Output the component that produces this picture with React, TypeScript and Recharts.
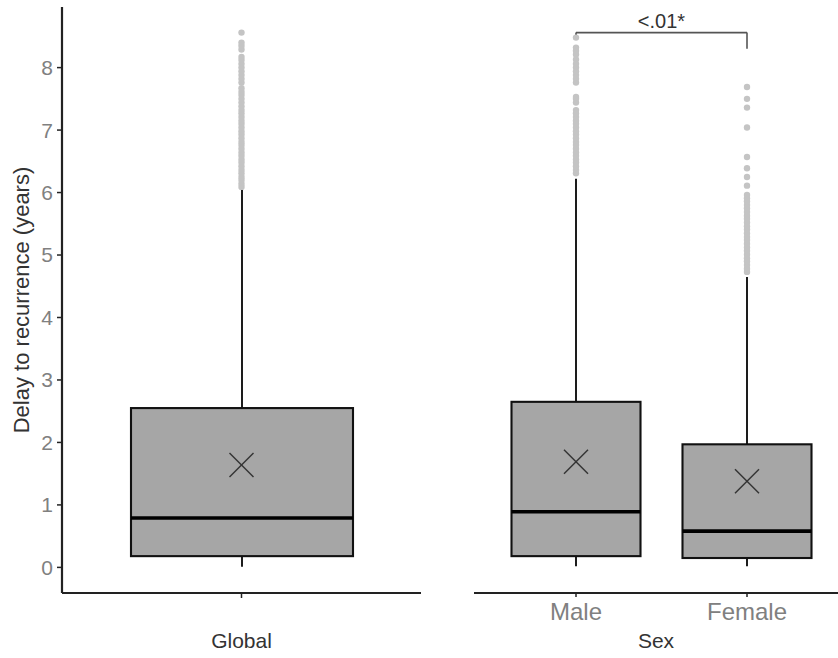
import React from 'react';
import { ComposedChart, Bar, Scatter, XAxis, YAxis, ReferenceLine } from 'recharts';

// box summaries (years)
const categories = ['Global', 'Male', 'Female'];
const lowerWhisker = [0.01, 0.02, 0.02];
const q1 = [0.18, 0.18, 0.15];
const median = [0.79, 0.89, 0.58];
const q3 = [2.55, 2.65, 1.97];
const upperWhisker = [6.04, 6.22, 4.65];
const means = [1.64, 1.69, 1.38];

const globalOutliers = [
  6.09, 6.14, 6.2, 6.25, 6.31, 6.36, 6.42, 6.48, 6.53, 6.59, 6.64, 6.7, 6.76, 6.81, 6.87, 6.93,
  6.98, 7.04, 7.1, 7.15, 7.21, 7.27, 7.32, 7.38, 7.44, 7.5, 7.56, 7.61, 7.67, 7.76, 7.82, 7.88,
  7.94, 8.0, 8.06, 8.12, 8.17, 8.29, 8.35, 8.4, 8.56,
];
const maleOutliers = [
  6.31, 6.36, 6.42, 6.48, 6.53, 6.59, 6.64, 6.7, 6.76, 6.81, 6.87, 6.93, 6.98, 7.04, 7.1, 7.15,
  7.21, 7.27, 7.32, 7.44, 7.5, 7.53, 7.76, 7.82, 7.88, 7.94, 8.0, 8.06, 8.13, 8.21, 8.27, 8.32,
  8.48,
];
const femaleOutliers = [
  4.73, 4.78, 4.84, 4.9, 4.95, 5.01, 5.07, 5.12, 5.18, 5.24, 5.29, 5.35, 5.41, 5.46, 5.52, 5.58,
  5.63, 5.69, 5.75, 5.8, 5.86, 5.91, 5.96, 6.11, 6.25, 6.39, 6.57, 7.04, 7.36, 7.5, 7.69,
];

const yTicks = [0, 1, 2, 3, 4, 5, 6, 7, 8];
const yDomain = [-0.41, 8.97];

// significance bracket Male vs Female
const sigPair = ['Male', 'Female'];
const sigTop = 8.56;
const sigLegEnds = [8.45, 8.3];
const sigLabel = '<.01*';

const rows = categories.map((name, i) => ({
  name,
  lo: lowerWhisker[i],
  q1: q1[i],
  med: median[i],
  q3: q3[i],
  hi: upperWhisker[i],
  mean: means[i],
}));

const toPoints = (name: string, vals: number[]) => vals.map(v => ({ name, v }));

const FONT = '"Liberation Sans", Arial, sans-serif';
const AXIS = '#222';
const TICK_TXT = '#808080';
const TITLE_TXT = '#333';

const BoxShape = (props: any) => {
  const { x, y, width, height, payload } = props;
  const { lo, hi } = payload;
  // map a value through the bar's own pixel extent (bar spans lo..hi)
  const py = (v: number) => y + (height * (hi - v)) / (hi - lo);
  const cx = x + width / 2;
  return (
    <g>
      <line x1={cx} x2={cx} y1={py(hi)} y2={py(payload.q3)} stroke="#111" strokeWidth={1.9} />
      <line x1={cx} x2={cx} y1={py(payload.q1)} y2={py(lo)} stroke="#111" strokeWidth={1.9} />
      <rect
        x={x}
        y={py(payload.q3)}
        width={width}
        height={py(payload.q1) - py(payload.q3)}
        fill="#a6a6a6"
        stroke="#111"
        strokeWidth={2.1}
      />
      <line x1={x} x2={x + width} y1={py(payload.med)} y2={py(payload.med)} stroke="#000" strokeWidth={3.6} />
    </g>
  );
};

const MeanCross = (props: any) => {
  const { cx, cy } = props;
  const s = 12;
  return (
    <g stroke="#333" strokeWidth={1.5}>
      <line x1={cx - s} y1={cy - s} x2={cx + s} y2={cy + s} />
      <line x1={cx - s} y1={cy + s} x2={cx + s} y2={cy - s} />
    </g>
  );
};

const Dot = (props: any) => <circle cx={props.cx} cy={props.cy} r={3.2} fill="#c4c4c4" />;

const H = 658;
const MARGIN_TOP = 7;
const XAXIS_H = 65;

const App: React.FC = () => {
  const left = rows.slice(0, 1);
  const right = rows.slice(1);

  return (
    <div style={{ position: 'absolute', left: 0, top: 0, width: 838, height: H, fontFamily: FONT, background: '#fff' }}>
      <div style={{ position: 'absolute', left: 0, top: 0 }}>
        <ComposedChart width={440} height={H} data={left} margin={{ top: MARGIN_TOP, right: 19, left: 0, bottom: 0 }}>
          <XAxis
            dataKey="name"
            allowDuplicatedCategory={false}
            height={XAXIS_H}
            tickSize={5}
            tickFormatter={() => ''}
            axisLine={{ stroke: AXIS, strokeWidth: 2 }}
            tickLine={{ stroke: AXIS, strokeWidth: 1.5 }}
            label={{ value: 'Global', position: 'insideBottom', offset: 10, fill: TITLE_TXT, fontSize: 21, fontFamily: FONT }}
          />
          <YAxis
            type="number"
            domain={yDomain}
            allowDataOverflow
            ticks={yTicks}
            width={62}
            tickSize={5}
            tickMargin={4}
            axisLine={{ stroke: AXIS, strokeWidth: 2.2 }}
            tickLine={{ stroke: AXIS, strokeWidth: 1.5 }}
            tick={{ fill: TICK_TXT, fontSize: 21, fontFamily: FONT }}
            label={{
              value: 'Delay to recurrence (years)',
              angle: -90,
              position: 'center',
              dx: -10,
              fill: TITLE_TXT,
              fontSize: 22,
              fontFamily: FONT,
            }}
          />
          <Scatter data={toPoints('Global', globalOutliers)} dataKey="v" shape={Dot} isAnimationActive={false} />
          <Bar dataKey={(d: any) => [d.lo, d.hi]} barSize={222} shape={BoxShape} isAnimationActive={false} />
          <Scatter dataKey="mean" shape={MeanCross} isAnimationActive={false} />
        </ComposedChart>
      </div>
      <div style={{ position: 'absolute', left: 460, top: 0 }}>
        <ComposedChart width={378} height={H} data={right} margin={{ top: MARGIN_TOP, right: 0, left: 14, bottom: 0 }}>
          <XAxis
            dataKey="name"
            allowDuplicatedCategory={false}
            height={XAXIS_H}
            padding={{ left: 16.5, right: 5.5 }}
            tickSize={4}
            tickMargin={6}
            axisLine={{ stroke: AXIS, strokeWidth: 2 }}
            tickLine={{ stroke: AXIS, strokeWidth: 1.5 }}
            tick={{ fill: TICK_TXT, fontSize: 24, fontFamily: FONT }}
            label={{ value: 'Sex', position: 'insideBottom', offset: 10, fill: TITLE_TXT, fontSize: 21, fontFamily: FONT }}
          />
          <YAxis type="number" domain={yDomain} allowDataOverflow ticks={yTicks} hide />
          <Scatter
            data={[...toPoints('Male', maleOutliers), ...toPoints('Female', femaleOutliers)]}
            dataKey="v"
            shape={Dot}
            isAnimationActive={false}
          />
          <Bar dataKey={(d: any) => [d.lo, d.hi]} barSize={129} shape={BoxShape} isAnimationActive={false} />
          <Scatter dataKey="mean" shape={MeanCross} isAnimationActive={false} />
          <ReferenceLine
            segment={[{ x: sigPair[0], y: sigTop }, { x: sigPair[1], y: sigTop }]}
            stroke="#555"
            strokeWidth={1.6}
            label={{ value: sigLabel, position: 'top', offset: 5, fill: '#333', fontSize: 20, fontFamily: FONT }}
          />
          <ReferenceLine segment={[{ x: sigPair[0], y: sigTop }, { x: sigPair[0], y: sigLegEnds[0] }]} stroke="#555" strokeWidth={1.6} />
          <ReferenceLine segment={[{ x: sigPair[1], y: sigTop }, { x: sigPair[1], y: sigLegEnds[1] }]} stroke="#555" strokeWidth={1.6} />
        </ComposedChart>
      </div>
    </div>
  );
};

export default App;
